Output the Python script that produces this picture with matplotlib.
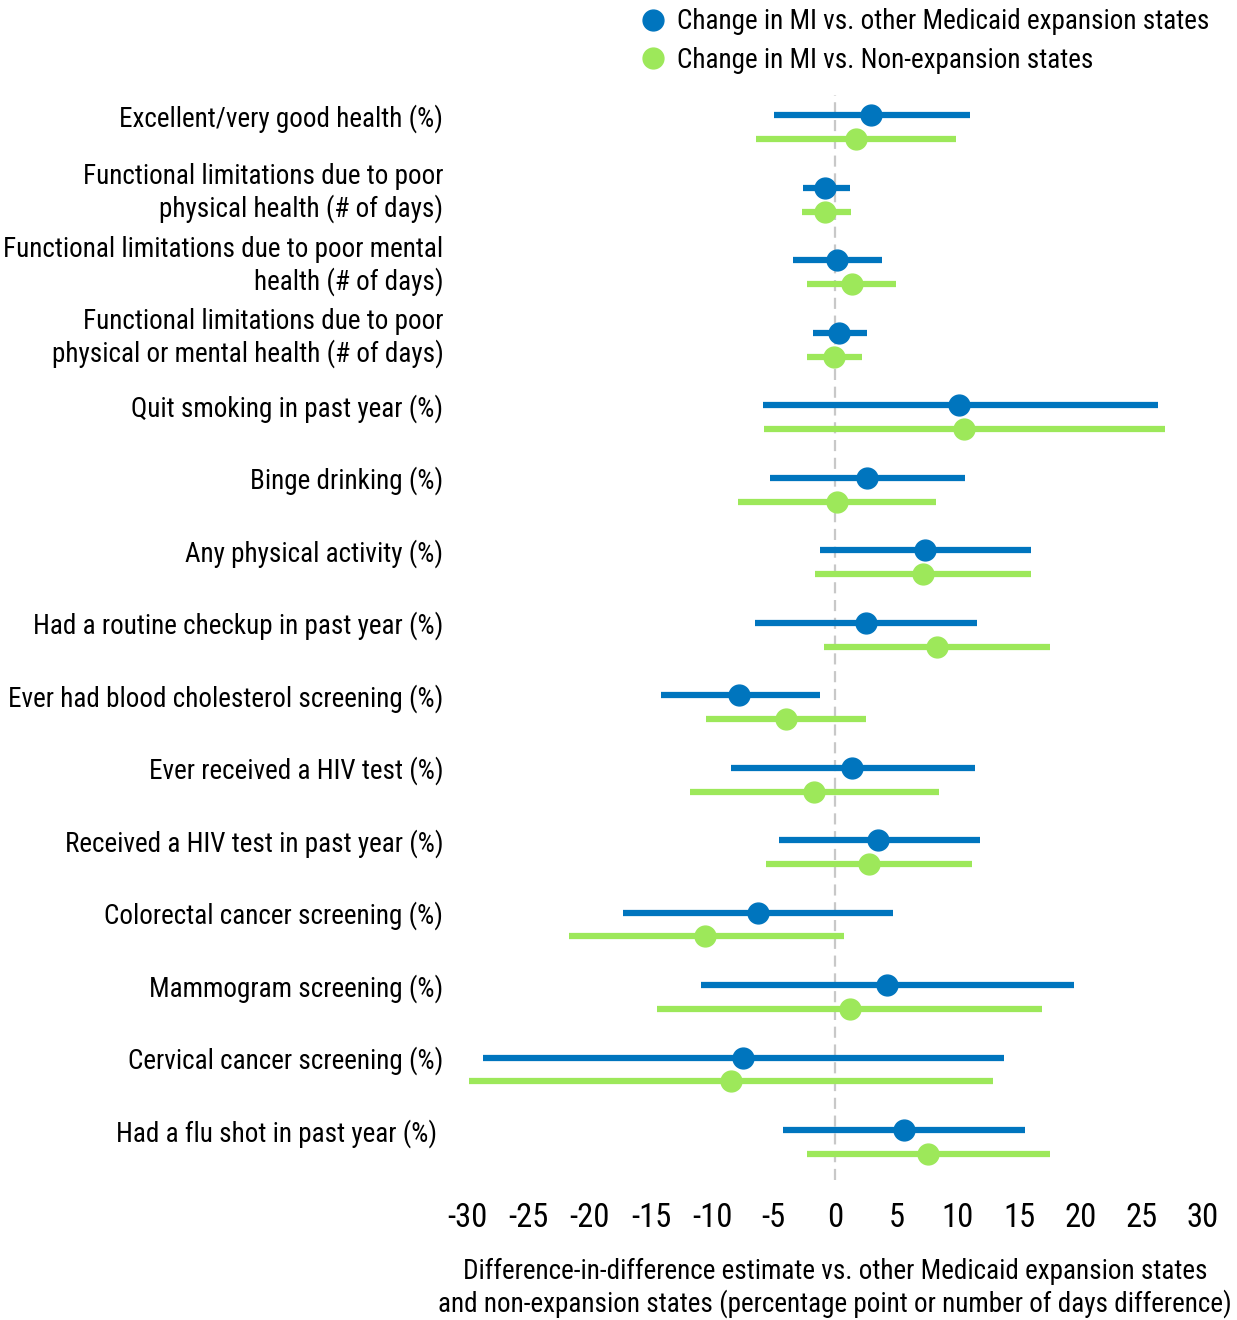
import numpy as np
import matplotlib.pyplot as plt
from matplotlib.lines import Line2D

plt.rcParams['font.family'] = ['Roboto Condensed', 'DejaVu Sans']
plt.rcParams['font.stretch'] = 'condensed'

# outcome labels, top to bottom
labels = [
    "Excellent/very good health (%)",
    "Functional limitations due to poor\nphysical health (# of days)",
    "Functional limitations due to poor mental\nhealth (# of days)",
    "Functional limitations due to poor\nphysical or mental health (# of days)",
    "Quit smoking in past year (%)",
    "Binge drinking (%)",
    "Any physical activity (%)",
    "Had a routine checkup in past year (%)",
    "Ever had blood cholesterol screening (%)",
    "Ever received a HIV test (%)",
    "Received a HIV test in past year (%)",
    "Colorectal cancer screening (%)",
    "Mammogram screening (%)",
    "Cervical cancer screening (%)",
    "Had a flu shot in past year (%) ",
]

# MI vs other expansion states
exp_est = [2.9, -0.8, 0.2, 0.3, 10.1, 2.6, 7.3, 2.5, -7.8, 1.4, 3.5, -6.3, 4.2, -7.5, 5.6]
exp_lo = [-5.0, -2.6, -3.4, -1.8, -5.9, -5.3, -1.2, -6.5, -14.2, -8.5, -4.6, -17.3, -10.9, -28.7, -4.2]
exp_hi = [11.0, 1.2, 3.8, 2.6, 26.3, 10.6, 16.0, 11.6, -1.2, 11.4, 11.8, 4.7, 19.5, 13.8, 15.5]

# MI vs non-expansion states
non_est = [1.7, -0.8, 1.4, -0.1, 10.5, 0.2, 7.2, 8.3, -4.0, -1.7, 2.8, -10.6, 1.2, -8.5, 7.6]
non_lo = [-6.4, -2.7, -2.3, -2.3, -5.8, -7.9, -1.6, -0.9, -10.5, -11.8, -5.6, -21.7, -14.5, -29.8, -2.3]
non_hi = [9.9, 1.3, 5.0, 2.2, 26.9, 8.2, 16.0, 17.5, 2.5, 8.5, 11.2, 0.7, 16.9, 12.9, 17.5]

blue = '#0075BE'
green = '#9DE85A'

fig = plt.figure(figsize=(12.37, 13.2), dpi=100)
ax = fig.add_axes([467/1237, 1 - 1180/1320, (1203-467)/1237, (1180-95)/1320])

y = np.arange(len(labels))
off = 0.33

ax.axvline(0, color='#c8c8c8', lw=1.6, ls=(0, (5, 3)), zorder=0)

ax.hlines(y, exp_lo, exp_hi, color=blue, lw=4.5, zorder=2, clip_on=False)
ax.plot(exp_est, y, 'o', color=blue, ms=15, zorder=3, clip_on=False)
ax.hlines(y + off, non_lo, non_hi, color=green, lw=4.5, zorder=2, clip_on=False)
ax.plot(non_est, y + off, 'o', color=green, ms=15, zorder=3, clip_on=False)

ax.set_xlim(-30, 30)
ax.set_ylim(14.69, -0.28)
ax.set_xticks(np.arange(-30, 31, 5))
ax.set_xticklabels([str(v) for v in range(-30, 31, 5)], fontsize=23.5)
ax.tick_params(axis='x', length=0, pad=16)
ax.set_yticks(y)
ax.set_yticklabels(labels, fontsize=19.5, linespacing=1.2)
ax.tick_params(axis='y', length=0, pad=17)
for s in ax.spines.values():
    s.set_visible(False)

ax.set_xlabel("Difference-in-difference estimate vs. other Medicaid expansion states\n"
              "and non-expansion states (percentage point or number of days difference)",
              fontsize=19.5, labelpad=17, linespacing=1.2)

handles = [Line2D([], [], marker='o', color=blue, ls='', ms=15),
           Line2D([], [], marker='o', color=green, ls='', ms=15)]
fig.legend(handles, ["Change in MI vs. other Medicaid expansion states",
                     "Change in MI vs. Non-expansion states"],
           loc='upper left', bbox_to_anchor=(620/1237, 1.006), frameon=False,
           fontsize=19.5, handletextpad=0.3, labelspacing=0.42, handlelength=1.2,
           borderaxespad=0.2)

plt.savefig("out.png", dpi=100)
